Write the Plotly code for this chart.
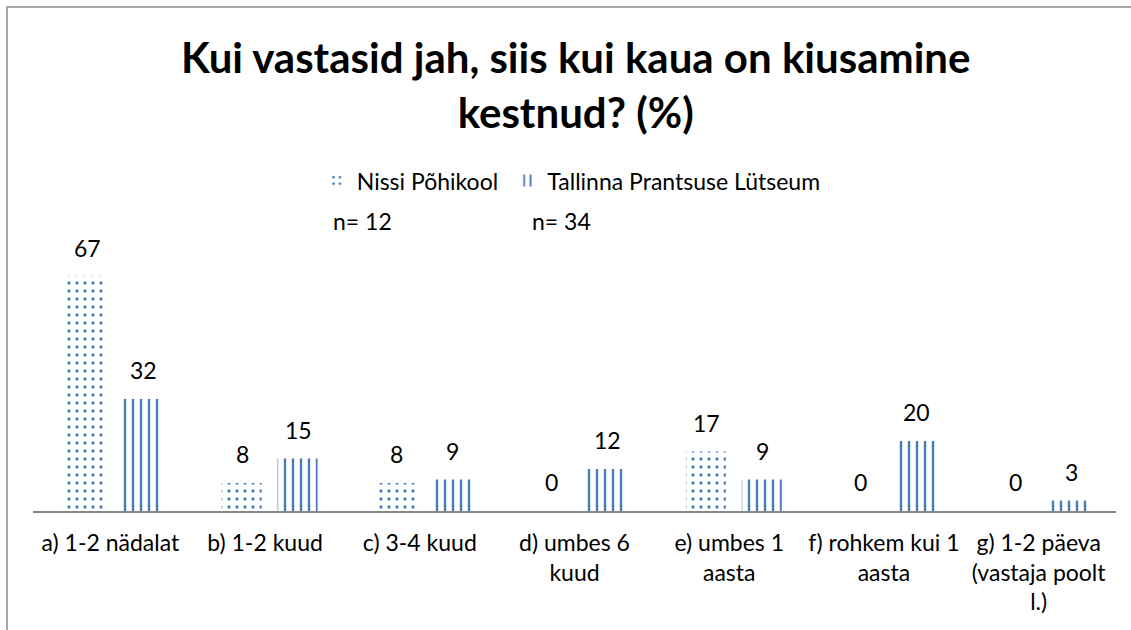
import plotly.graph_objects as go

categories = ["a) 1-2 nädalat", "b) 1-2 kuud", "c) 3-4 kuud", "d) umbes 6<br>kuud",
              "e) umbes 1<br>aasta", "f) rohkem kui 1<br>aasta",
              "g) 1-2 päeva<br>(vastaja poolt<br>l.)"]
nissi = [67, 8, 8, 0, 17, 0, 0]
tallinn = [32, 15, 9, 12, 9, 20, 3]
series_names = ["Nissi Põhikool", "Tallinna Prantsuse Lütseum"]
n_labels = ["n= 12", "n= 34"]
title = "Kui vastasid jah, siis kui kaua on kiusamine<br>kestnud? (%)"

blue = "#4a7ebb"
font = "Lato"
bar_w = 0.2586  # in category units

fig = go.Figure()
fig.add_trace(go.Bar(x=categories, y=nissi, name=series_names[0], legend="legend",
                     offset=-0.28, width=bar_w,
                     marker=dict(color="white", line=dict(width=0),
                                 pattern=dict(shape=".", fgcolor=blue, bgcolor="white",
                                              fgopacity=1, size=8, solidity=0.13))))
fig.add_trace(go.Bar(x=categories, y=tallinn, name=series_names[1], legend="legend2",
                     offset=0.081, width=bar_w,
                     marker=dict(color="white", line=dict(width=0),
                                 pattern=dict(shape="|", fgcolor=blue, bgcolor="white",
                                              fgopacity=1, size=8, solidity=0.3))))

# value labels above bars
for vals, shift in [(nissi, -23), (tallinn, 33)]:
    for c, v in zip(categories, vals):
        fig.add_annotation(x=c, y=v, text=str(v), showarrow=False, xshift=shift,
                           yanchor="bottom", yshift=13, font=dict(size=23, color="black"))

# n= notes under the legend
for txt, xp in zip(n_labels, [0.275, 0.459]):
    fig.add_annotation(xref="paper", yref="paper", x=xp, y=1.036, text=txt,
                       showarrow=False, xanchor="left", yanchor="middle",
                       font=dict(size=23, color="black"))

# chart frame
fig.add_shape(type="rect", xref="paper", yref="paper", x0=-0.024, x1=1.05, y0=-0.5, y1=1.8,
              line=dict(color="#8a8a8a", width=1.5), fillcolor="rgba(0,0,0,0)", layer="below")

legend_style = dict(orientation="h", y=1.18, xanchor="left", yanchor="middle",
                    font=dict(size=23), bgcolor="rgba(0,0,0,0)", itemwidth=30)

fig.update_layout(
    width=1131, height=630,
    margin=dict(l=33, r=15, t=231, b=119, autoexpand=False),
    paper_bgcolor="white", plot_bgcolor="white",
    font=dict(family=font, size=23, color="black"),
    title=dict(text="<b>" + title + "</b>",
               x=0.509, xanchor="center", y=1 - 73 / 630, yanchor="middle",
               font=dict(size=42, color="black")),
    barmode="group",
    legend=dict(x=0.262, **legend_style),
    legend2=dict(x=0.438, **legend_style),
    showlegend=True,
)
fig.update_xaxes(showline=True, linecolor="#868686", linewidth=2, ticks="",
                 tickfont=dict(size=23), showgrid=False, automargin=False,
                 ticklabelstandoff=10)
fig.update_yaxes(range=[0, 80], visible=False, showgrid=False, automargin=False)

fig.write_html("out.html", config={"displayModeBar": False},
               post_script="document.body.style.margin='0';")
